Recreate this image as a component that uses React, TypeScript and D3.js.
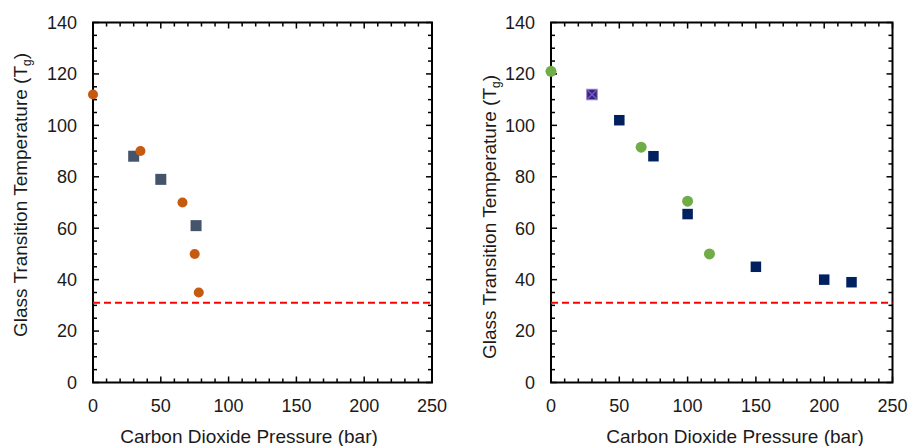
import React from 'react'
import * as d3 from 'd3'

// ticks
const xTicks = [0, 50, 100, 150, 200, 250]
const yTicks = [0, 20, 40, 60, 80, 100, 120, 140]

// CO2 critical temperature line
const criticalTemp = 31

// left panel
const leftCircleX = [0, 35, 66, 75, 78]
const leftCircleY = [112, 90, 70, 50, 35]
const leftSquareX = [30, 50, 76]
const leftSquareY = [88, 79, 61]

// right panel
const rightCircleX = [0, 66, 100, 116]
const rightCircleY = [121, 91.5, 70.5, 50]
const rightSquareX = [50, 75, 100, 150, 200, 220]
const rightSquareY = [102, 88, 65.5, 45, 40, 39]
const rightCrossX = [30]
const rightCrossY = [112]

const zip = (xs: number[], ys: number[]) => xs.map((x, i) => ({ x, y: ys[i] }))

const font = '"Liberation Sans", Arial, sans-serif'
const textColor = '#1a1a1a'

type Series = { pts: { x: number; y: number }[]; kind: 'circle' | 'square' | 'cross'; color: string; size: number }

function Panel({ left, right, top, bottom, series, yTitle, xTitleX }: {
  left: number; right: number; top: number; bottom: number
  series: Series[]; yTitle: [number, number]; xTitleX: number
}) {
  const x = d3.scaleLinear().domain([0, 250]).range([left, right])
  const y = d3.scaleLinear().domain([0, 140]).range([bottom, top])
  const xMinor = d3.range(0, 251, 10)
  const yMinor = d3.range(0, 141, 5)

  return (
    <g>
      {/* ticks on all four sides, pointing in */}
      {yMinor.map(v => {
        const len = v % 20 === 0 ? 6 : 4
        return (
          <g key={'y' + v} stroke="#000" strokeWidth={1.5}>
            <line x1={left} x2={left + len} y1={y(v)} y2={y(v)} />
            <line x1={right} x2={right - len} y1={y(v)} y2={y(v)} />
          </g>
        )
      })}
      {xMinor.map(v => {
        const len = v % 50 === 0 ? 6 : 4
        return (
          <g key={'x' + v} stroke="#000" strokeWidth={1.5}>
            <line x1={x(v)} x2={x(v)} y1={bottom} y2={bottom - len} />
            <line x1={x(v)} x2={x(v)} y1={top} y2={top + len} />
          </g>
        )
      })}
      <rect x={left} y={top} width={right - left} height={bottom - top} fill="none" stroke="#000" strokeWidth={2} />

      {yTicks.map(v => (
        <text key={'yl' + v} x={left - 16} y={y(v)} dy="0.35em" textAnchor="end"
          fontFamily={font} fontSize={18} fill={textColor}>{v}</text>
      ))}
      {xTicks.map(v => (
        <text key={'xl' + v} x={x(v)} y={bottom + 29} textAnchor="middle"
          fontFamily={font} fontSize={18} fill={textColor}>{v}</text>
      ))}

      <text x={xTitleX} y={bottom + 60} textAnchor="middle" fontFamily={font} fontSize={19} fill={textColor}>
        Carbon Dioxide Pressure (bar)
      </text>
      <text transform={`translate(${yTitle[0]},${yTitle[1]}) rotate(-90)`} textAnchor="middle" dy="0.35em"
        fontFamily={font} fontSize={19} fill={textColor}>
        Glass Transition Temperature (T<tspan fontSize={12} dy={4}>g</tspan><tspan dy={-4}>)</tspan>
      </text>

      <line x1={left} x2={right} y1={y(criticalTemp)} y2={y(criticalTemp)}
        stroke="#ff0000" strokeWidth={2} strokeDasharray="7,4" />

      {series.map((s, si) => s.pts.map((p, i) => {
        const cx = x(p.x), cy = y(p.y), h = s.size / 2
        if (s.kind === 'circle') return <circle key={si + '-' + i} cx={cx} cy={cy} r={h} fill={s.color} />
        if (s.kind === 'square') return <rect key={si + '-' + i} x={cx - h} y={cy - h} width={s.size} height={s.size} fill={s.color} />
        return (
          <g key={si + '-' + i}>
            <rect x={cx - h} y={cy - h} width={s.size} height={s.size} fill="#2a2a78" stroke="#a07ad6" strokeWidth={1} />
            <path d={`M${cx - h + 1},${cy - h + 1}L${cx + h - 1},${cy + h - 1}M${cx + h - 1},${cy - h + 1}L${cx - h + 1},${cy + h - 1}`}
              stroke="#8a4fc8" strokeWidth={1.5} />
          </g>
        )
      }))}
    </g>
  )
}

export default function App() {
  return (
    <svg width={911} height={446} style={{ position: 'absolute', left: 0, top: 0, background: '#fff' }}>
      <Panel left={93} right={432} top={22.5} bottom={382.5} yTitle={[20, 195]} xTitleX={249}
        series={[
          { pts: zip(leftSquareX, leftSquareY), kind: 'square', color: '#44546a', size: 11 },
          { pts: zip(leftCircleX, leftCircleY), kind: 'circle', color: '#c55a11', size: 10 },
        ]} />
      <Panel left={551} right={892.5} top={22.5} bottom={382.5} yTitle={[489, 217]} xTitleX={735}
        series={[
          { pts: zip(rightCircleX, rightCircleY), kind: 'circle', color: '#70ad47', size: 11 },
          { pts: zip(rightSquareX, rightSquareY), kind: 'square', color: '#002060', size: 10.5 },
          { pts: zip(rightCrossX, rightCrossY), kind: 'cross', color: '#7030a0', size: 10.5 },
        ]} />
    </svg>
  )
}
